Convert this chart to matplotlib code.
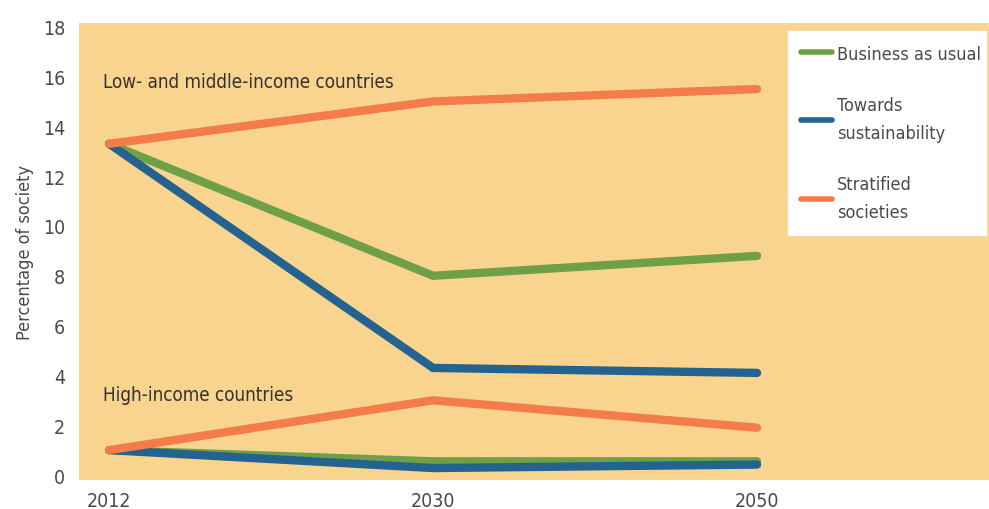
import matplotlib.pyplot as plt
from matplotlib import font_manager

years = ['2012', '2030', '2050']

# low- and middle-income countries
lmic_bau = [13.3, 8.0, 8.8]
lmic_sust = [13.3, 4.3, 4.1]
lmic_strat = [13.3, 15.0, 15.5]

# high-income countries
hic_bau = [1.0, 0.55, 0.55]
hic_sust = [1.0, 0.28, 0.42]
hic_strat = [1.0, 3.0, 1.9]

names = ['Business as usual', 'Towards\nsustainability', 'Stratified\nsocieties']
colors = ['#6f9f46', '#24628f', '#f47c4a']

# pick a condensed face if one is around
cond = None
for f in font_manager.fontManager.ttflist:
    if ('Condensed' in f.fname or 'Narrow' in f.fname) and 'Bold' not in f.fname \
            and 'Oblique' not in f.fname and 'Italic' not in f.fname:
        cond = f.fname
        if 'DejaVuSansCondensed.ttf' in f.fname:
            break
if cond:
    fam = font_manager.FontProperties(fname=cond).get_name()
else:
    fam = 'DejaVu Sans'
plt.rcParams['font.family'] = [fam, 'DejaVu Sans']
plt.rcParams['font.stretch'] = 'condensed'

txt = '#4a4a4a'
fig = plt.figure(figsize=(9.89, 5.10), dpi=100)
ax = fig.add_axes([79 / 989, 29 / 510, 910 / 989, 457 / 510])
ax.set_facecolor('#f8d48e')

x = list(range(len(years)))
lines = []
for lm, hi, c, n in zip([lmic_bau, lmic_sust, lmic_strat],
                        [hic_bau, hic_sust, hic_strat], colors, names):
    l, = ax.plot(x, lm, color=c, lw=6, solid_capstyle='round',
                 solid_joinstyle='miter', label=n)
    ax.plot(x, hi, color=c, lw=6, solid_capstyle='round', solid_joinstyle='miter')
    lines.append(l)

ax.set_xlim(-0.093, 2.716)
ax.set_ylim(-0.2, 18.15)
ax.set_yticks(range(0, 19, 2))
ax.set_xticks(x)
ax.set_xticklabels(years)
ax.tick_params(length=0, labelsize=14, colors=txt, pad=8)
ax.tick_params(axis='y', pad=10)
for s in ax.spines.values():
    s.set_visible(False)
ax.set_ylabel('Percentage of society', fontsize=13, color=txt, labelpad=6)

ax.text(-0.02, 15.8, 'Low- and middle-income countries', fontsize=13.5, color='#333333',
        ha='left', va='center')
ax.text(-0.02, 3.25, 'High-income countries', fontsize=13.5, color='#333333',
        ha='left', va='center')

leg = ax.legend(handles=lines, loc='upper left', bbox_to_anchor=(0.779, 0.5, 0.218, 0.482),
                mode='expand', frameon=True, fancybox=False, fontsize=13, labelcolor=txt,
                handlelength=1.7, handletextpad=0.25, labelspacing=1.85,
                borderpad=0.75, borderaxespad=0)
leg.get_frame().set_facecolor('white')
leg.get_frame().set_edgecolor('white')
leg.get_frame().set_alpha(1)
for h in leg.legend_handles:
    h.set_linewidth(4)
for t in leg.get_texts():
    t.set_linespacing(1.7)

fig.savefig('out.png', dpi=100)
